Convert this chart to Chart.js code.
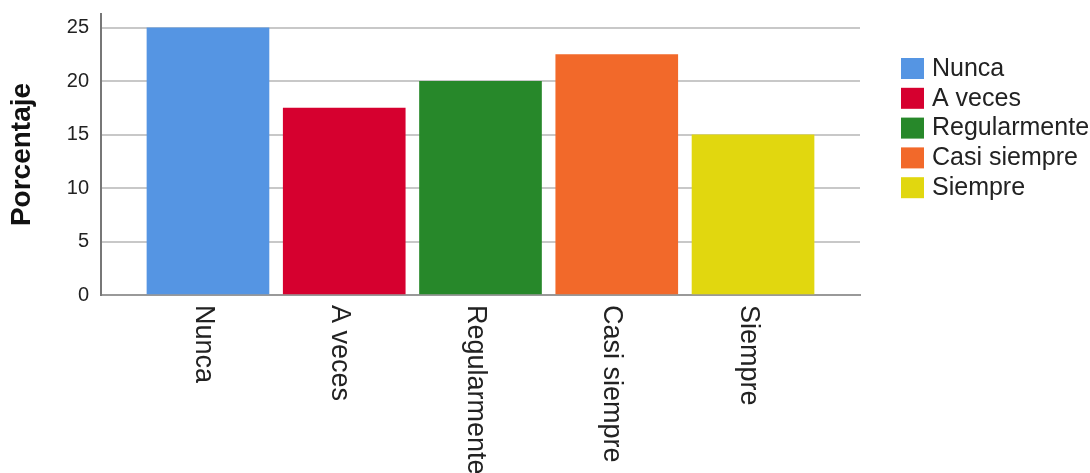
<!DOCTYPE html>
<html>
<head>
<meta charset="utf-8">
<script src="https://cdn.jsdelivr.net/npm/chart.js@4/dist/chart.umd.min.js"></script>
<style>
  html, body { margin: 0; padding: 0; background: #fff; }
  #wrap { width: 1090px; height: 473px; }
</style>
</head>
<body>
<div id="wrap"><canvas id="frecuencia" width="1090" height="473"></canvas></div>
<script>
const categories = ['Nunca', 'A veces', 'Regularmente', 'Casi siempre', 'Siempre'];
const percentages = [25, 17.5, 20, 22.5, 15];
const yTicks = [0, 5, 10, 15, 20, 25];
const barColors = ['#5595e3', '#d6002f', '#27882a', '#f2692a', '#e1d70f'];

const FONT = 'Arial, "Liberation Sans", sans-serif';
Chart.defaults.font.family = FONT;
Chart.defaults.color = '#222';

// category names under the bars, written top to bottom
const categoryLabels = {
  id: 'categoryLabels',
  afterDraw(chart) {
    const { ctx } = chart;
    const xs = chart.scales.x;
    const top = chart.chartArea.bottom + 10;
    ctx.save();
    ctx.fillStyle = '#222';
    ctx.font = `27px ${FONT}`;
    ctx.textAlign = 'left';
    ctx.textBaseline = 'middle';
    categories.forEach((name, i) => {
      ctx.save();
      ctx.translate(xs.getPixelForValue(i) - 5, top);
      ctx.rotate(Math.PI / 2);
      ctx.fillText(name, 0, 0);
      ctx.restore();
    });
    ctx.restore();
  },
};

// legend box to the right of the plot
const sideLegend = {
  id: 'sideLegend',
  afterDraw(chart) {
    const { ctx } = chart;
    const x = chart.chartArea.right + 41;
    let y = 58;
    ctx.save();
    ctx.font = `25px ${FONT}`;
    ctx.textAlign = 'left';
    ctx.textBaseline = 'middle';
    categories.forEach((name, i) => {
      ctx.fillStyle = barColors[i];
      ctx.fillRect(x, y, 23, 21);
      ctx.fillStyle = '#222';
      ctx.fillText(name, x + 31, y + 11);
      y += 29.8;
    });
    ctx.restore();
  },
};

new Chart(document.getElementById('frecuencia'), {
  type: 'bar',
  data: {
    datasets: [{
      data: categories.map((c, i) => ({ x: i, y: percentages[i] })),
      backgroundColor: barColors,
      borderWidth: 0,
      barThickness: 122,
    }],
  },
  options: {
    responsive: false,
    animation: false,
    layout: { padding: { left: 0, top: 14, right: 230, bottom: 0 } },
    plugins: {
      legend: { display: false },
      tooltip: { enabled: false },
    },
    scales: {
      x: {
        type: 'linear',
        offset: false,
        min: -0.785,
        max: 4.785,
        grid: { display: false, offset: false },
        ticks: { display: false },
        border: { color: '#999', width: 2 },
        afterFit(scale) { scale.height = 178; },
      },
      y: {
        min: 0,
        max: 26.3,
        afterBuildTicks(scale) {
          scale.ticks = yTicks.map((v) => ({ value: v }));
        },
        afterFit(scale) {
          scale.width = 101;
          // top label sits well below the axis end, no extra room needed
          scale.paddingTop = 0;
          scale.paddingBottom = 0;
        },
        grid: { color: '#c8c8c8', lineWidth: 2, drawTicks: false },
        border: { color: '#777', width: 2 },
        ticks: { padding: 12, font: { size: 20 }, color: '#222' },
        title: {
          display: true,
          text: 'Porcentaje',
          font: { size: 28, weight: 'bold' },
          color: '#111',
          padding: { top: 5, bottom: 0 },
        },
      },
    },
  },
  plugins: [categoryLabels, sideLegend],
});
</script>
</body>
</html>
